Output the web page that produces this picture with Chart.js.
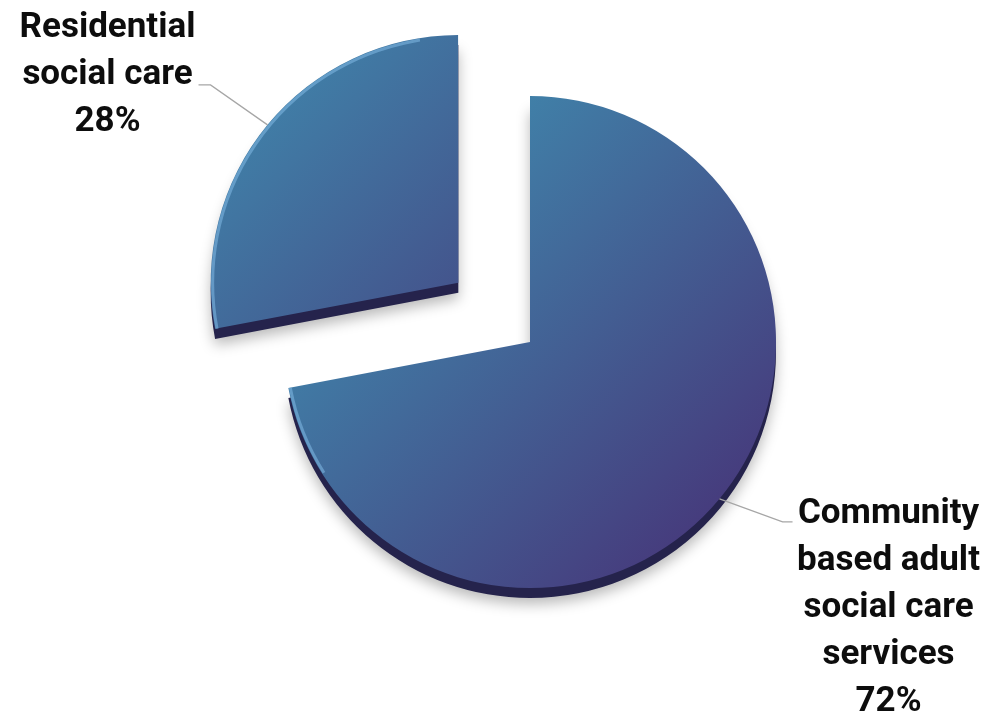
<!DOCTYPE html>
<html lang="en">
<head>
    <meta charset="UTF-8">
    <title>Adult social care spend</title>
    <script src="https://cdn.jsdelivr.net/npm/chart.js@4.4.0/dist/chart.umd.min.js"></script>
    <style>
        html, body { margin: 0; padding: 0; background: #fff; }
        #wrap { width: 990px; height: 713px; }
    </style>
</head>
<body>
    <div id="wrap"><canvas id="chartSpend"></canvas></div>

<script>
    // dados do grafico
    var categorias = [
        ['Community', 'based adult', 'social care', 'services'],
        ['Residential', 'social care']
    ];
    var valores = [72, 28];
    var rotulosPct = ['72%', '28%'];

    // cores
    var corTopo = '#3f8db0';
    var corBase = '#463a7c';
    var corLateral = '#25234c';

    var raio = 246;
    var explodir = [0, 372]; // Chart.js translada offset/4

    // geometria de cada fatia como ela e desenhada (centro ja com o offset)
    function geometriaFatia(arc) {
        var meio = (arc.startAngle + arc.endAngle) / 2;
        var off = (arc.options.offset || 0) / 4;
        var circ = arc.endAngle - arc.startAngle;
        var fix = 1 - Math.sin(Math.min(Math.PI, circ));
        return {
            cx: arc.x + Math.cos(meio) * off,
            cy: arc.y + Math.sin(meio) * off,
            r: arc.outerRadius + off * fix,
            ini: arc.startAngle,
            fim: arc.endAngle,
            meio: meio
        };
    }

    // gradiente por fatia, calculado a partir dos valores
    function gradienteFatia(c) {
        var chart = c.chart;
        var area = chart.chartArea;
        if (!area) return corTopo;
        var ds = chart.data.datasets[0];
        var total = ds.data.reduce(function (a, b) { return a + b; }, 0);
        var ini = -Math.PI / 2;
        for (var j = 0; j < c.dataIndex; j++) ini += ds.data[j] / total * Math.PI * 2;
        var circ = ds.data[c.dataIndex] / total * Math.PI * 2;
        var meio = ini + circ / 2;
        var off = explodir[c.dataIndex] / 4;
        var fix = 1 - Math.sin(Math.min(Math.PI, circ));
        var cx = (area.left + area.right) / 2 + Math.cos(meio) * off;
        var cy = (area.top + area.bottom) / 2 + Math.sin(meio) * off;
        var r = raio + off * fix;
        var g = chart.ctx.createLinearGradient(cx - r * 0.75, cy - r * 0.75, cx + r * 0.75, cy + r * 0.75);
        g.addColorStop(0, corTopo);
        g.addColorStop(1, corBase);
        return g;
    }

    // lateral 3D + sombra, desenhadas antes das fatias
    var pluginLateral = {
        id: 'lateral',
        beforeDatasetsDraw: function (chart, args, opts) {
            var ctx = chart.ctx;
            chart.getDatasetMeta(0).data.forEach(function (arc) {
                var g = geometriaFatia(arc);
                ctx.save();
                ctx.shadowColor = 'rgba(0,0,0,0.28)';
                ctx.shadowBlur = 14;
                ctx.shadowOffsetY = 6;
                ctx.fillStyle = corLateral;
                ctx.beginPath();
                ctx.moveTo(g.cx, g.cy + opts.profundidade);
                ctx.arc(g.cx, g.cy + opts.profundidade, g.r, g.ini, g.fim);
                ctx.closePath();
                ctx.fill();
                ctx.restore();
            });
        },
        // brilho na borda esquerda (chanfro)
        afterDatasetsDraw: function (chart) {
            var ctx = chart.ctx;
            chart.getDatasetMeta(0).data.forEach(function (arc) {
                var g = geometriaFatia(arc);
                var a0 = Math.max(g.ini, Math.PI * 0.82);
                var a1 = Math.min(g.fim, Math.PI * 1.45);
                if (a1 <= a0) return;
                ctx.save();
                ctx.strokeStyle = 'rgba(130,185,230,0.55)';
                ctx.lineWidth = 3;
                ctx.beginPath();
                ctx.arc(g.cx, g.cy, g.r - 2, a0, a1);
                ctx.stroke();
                ctx.restore();
            });
        }
    };

    // rotulos com linha de chamada
    var pluginRotulos = {
        id: 'rotulos',
        afterDatasetsDraw: function (chart, args, opts) {
            var ctx = chart.ctx;
            var labels = chart.data.labels;
            chart.getDatasetMeta(0).data.forEach(function (arc, i) {
                var g = geometriaFatia(arc);
                var lay = opts.layout[i];
                var ax = g.cx + Math.cos(g.meio) * g.r;
                var ay = g.cy + Math.sin(g.meio) * g.r;
                var ex = ax + lay.cotoveloX;
                var ey = ay + lay.cotoveloY;
                var hx = ex + lay.gancho;

                ctx.save();
                ctx.strokeStyle = '#a6a6a6';
                ctx.lineWidth = 1.3;
                ctx.beginPath();
                ctx.moveTo(ax, ay);
                ctx.lineTo(ex, ey);
                ctx.lineTo(hx, ey);
                ctx.stroke();

                var linhas = labels[i].concat([rotulosPct[i]]);
                ctx.fillStyle = '#0d0d0d';
                ctx.font = opts.fonte;
                ctx.textAlign = 'center';
                ctx.textBaseline = 'middle';
                linhas.forEach(function (t, k) {
                    ctx.fillText(t, hx + lay.textoX, ey + lay.textoY + k * opts.alturaLinha);
                });
                ctx.restore();
            });
        }
    };

    var ctxSpend = document.getElementById('chartSpend').getContext('2d');

    var chartSpend = new Chart(ctxSpend, {
        type: 'pie',
        data: {
            labels: categorias,
            datasets: [
                {
                    data: valores,
                    backgroundColor: gradienteFatia,
                    borderWidth: 0,
                    offset: explodir,
                    radius: raio
                }
            ]
        },
        options: {
            responsive: true,
            maintainAspectRatio: false,
            animation: false,
            events: [],
            layout: {
                padding: { left: 70, right: 0, top: 0, bottom: 29 }
            },
            plugins: {
                legend: { display: false },
                tooltip: { enabled: false },
                lateral: { profundidade: 10 },
                rotulos: {
                    fonte: 'bold 35px Roboto',
                    alturaLinha: 47,
                    layout: [
                        { cotoveloX: 63, cotoveloY: 23, gancho: 10, textoX: 96, textoY: -8 },
                        { cotoveloX: -57, cotoveloY: -40, gancho: -12, textoX: -91, textoY: -57 }
                    ]
                }
            }
        },
        plugins: [pluginLateral, pluginRotulos]
    });
</script>
</body>
</html>
